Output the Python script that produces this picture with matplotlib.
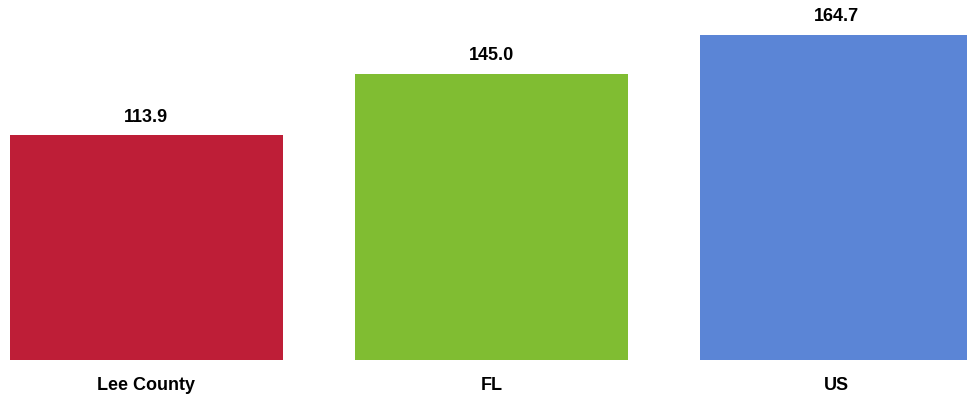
import matplotlib
matplotlib.use('Agg')
from matplotlib import pyplot as plt
from matplotlib import font_manager

# dados
regioes = ['Lee County', 'FL', 'US']
valores = [113.9, 145.0, 164.7]
cores = ['#BE1E37', '#80BD32', '#5B85D6']

nomes = [f.name for f in font_manager.fontManager.ttflist]
if 'Liberation Sans Narrow' in nomes:
    plt.rcParams['font.family'] = ['Liberation Sans Narrow', 'DejaVu Sans']
else:
    plt.rcParams['font.family'] = ['Liberation Sans', 'DejaVu Sans']

fig = plt.figure(figsize=(9.67, 3.98), dpi=100)
ax = fig.add_axes([0, 38 / 398, 1, 360 / 398])

x = range(len(regioes))
barras = ax.bar(x, valores, width=0.79, color=cores)

for b, v in zip(barras, valores):
    ax.annotate(f'{v:.1f}', (b.get_x() + b.get_width() / 2, v),
                xytext=(0, 13), textcoords='offset points',
                ha='center', va='center', fontsize=13, fontweight='bold')

ax.set_xlim(-0.424, 2.379)
ax.set_ylim(0, 182.4)
ax.set_xticks(list(x))
ax.set_xticklabels(regioes, fontsize=13, fontweight='bold')
ax.tick_params(axis='x', length=0, pad=12)
ax.set_yticks([])
for s in ax.spines.values():
    s.set_visible(False)

fig.savefig('out.png', dpi=100)
